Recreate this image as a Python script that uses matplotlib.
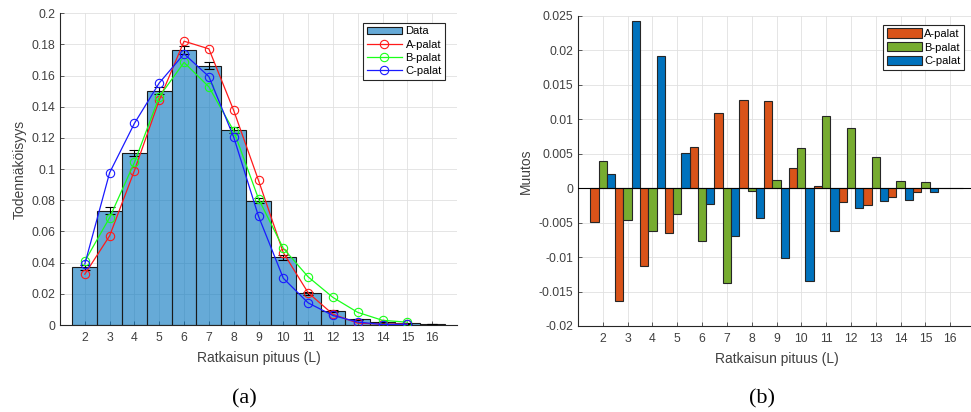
import numpy as np
import matplotlib.pyplot as plt

######################################################################
# data

lengths = np.arange(2, 17)

data_p = [0.0370, 0.0734, 0.1104, 0.1502, 0.1762, 0.1664, 0.1249, 0.0798,
          0.0434, 0.0204, 0.0089, 0.0036, 0.0019, 0.0010, 0.0006]
data_err = [0.0018, 0.0020, 0.0020, 0.0022, 0.0026, 0.0024, 0.0020, 0.0018,
            0.0014, 0.0010, 0.0007, 0.0005, 0.0003, 0.0002, 0.0001]

model_len = np.arange(2, 16)
a_palat = [0.0326, 0.0572, 0.0991, 0.1443, 0.1821, 0.1772, 0.1377, 0.0928,
           0.0464, 0.0207, 0.0069, 0.0012, 0.0006, 0.0006]
b_palat = [0.0409, 0.0689, 0.1043, 0.1465, 0.1685, 0.1528, 0.1246, 0.0810,
           0.0492, 0.0309, 0.0177, 0.0081, 0.0030, 0.0018]
c_palat = [0.0391, 0.0977, 0.1294, 0.1553, 0.1740, 0.1594, 0.1206, 0.0698,
           0.0300, 0.0142, 0.0061, 0.0019, 0.0003, 0.0005]

diff_a = [-0.00485, -0.0164, -0.0113, -0.0065, 0.0060, 0.01095, 0.0128, 0.0127,
          0.00286, 0.00034, -0.0020, -0.0025, -0.0013, -0.0005, 0.0]
diff_b = [0.0039, -0.0046, -0.0062, -0.0038, -0.0077, -0.0137, -0.0004, 0.00116,
          0.0058, 0.01047, 0.00877, 0.00455, 0.00107, 0.00087, 0.0]
diff_c = [0.0021, 0.0243, 0.0191, 0.0051, -0.0023, -0.0070, -0.0044, -0.0101,
          -0.0135, -0.0062, -0.0029, -0.0018, -0.0017, -0.0006, 0.0]

left_yticks = np.arange(0, 0.201, 0.02)
left_ylabels = ['0', '0.02', '0.04', '0.06', '0.08', '0.1', '0.12', '0.14',
                '0.16', '0.18', '0.2']
right_yticks = np.arange(-0.02, 0.0251, 0.005)
right_ylabels = ['-0.02', '-0.015', '-0.01', '-0.005', '0', '0.005', '0.01',
                 '0.015', '0.02', '0.025']

######################################################################

plt.rcParams['font.family'] = ['Liberation Sans', 'DejaVu Sans']
tick_col = '#404040'

fig = plt.figure(figsize=(9.71, 4.12), dpi=100)


def style_axes(ax):
    ax.spines['top'].set_visible(False)
    ax.spines['right'].set_visible(False)
    for s in ('left', 'bottom'):
        ax.spines[s].set_color('#262626')
        ax.spines[s].set_linewidth(0.8)
    ax.tick_params(direction='in', length=3, width=0.6, colors=tick_col,
                   labelsize=8.8)
    ax.tick_params(axis='x', pad=5)
    ax.grid(True, color='#e0e0e0', linewidth=0.6)
    ax.set_axisbelow(True)


# (a) distribution
ax1 = fig.add_axes([60/971, 1 - 325/412, 397/971, 311.7/412])
ax1.bar(lengths, data_p, width=1.0, facecolor=(0, 0.447, 0.741, 0.6),
        edgecolor='#1a1a1a', linewidth=0.8, label='Data', zorder=2)
ax1.errorbar(lengths, data_p, yerr=data_err, fmt='none', ecolor='black',
             elinewidth=0.8, capsize=3.5, capthick=0.8, zorder=3)
ax1.plot(model_len, a_palat, '-o', color='#ff1a1a', mfc='none', ms=6,
         lw=0.9, mew=0.8, label='A-palat', zorder=4)
ax1.plot(model_len, b_palat, '-o', color='#1aff1a', mfc='none', ms=6,
         lw=0.9, mew=0.8, label='B-palat', zorder=4)
ax1.plot(model_len, c_palat, '-o', color='#1a1aff', mfc='none', ms=6,
         lw=0.9, mew=0.8, label='C-palat', zorder=4)
ax1.set_xlim(1, 17)
ax1.set_ylim(0, 0.2)
ax1.set_xticks(lengths)
ax1.set_yticks(left_yticks)
ax1.set_yticklabels(left_ylabels)
style_axes(ax1)
ax1.set_ylabel('Todennäköisyys', fontsize=10, color=tick_col)
ax1.yaxis.set_label_coords(-0.085, 0.5)
ax1.set_xlabel('Ratkaisun pituus (L)', fontsize=10, color=tick_col)
ax1.xaxis.set_label_coords(0.5, -0.083)
handles, labels = ax1.get_legend_handles_labels()
order = [labels.index('Data'), labels.index('A-palat'),
         labels.index('B-palat'), labels.index('C-palat')]
leg1 = ax1.legend([handles[i] for i in order], [labels[i] for i in order],
                  loc='upper right', bbox_to_anchor=(0.97, 0.969), fontsize=8,
                  fancybox=False, framealpha=1, edgecolor='#262626',
                  handlelength=3.2, handletextpad=0.3, borderpad=0.3,
                  labelspacing=0.3, borderaxespad=0)
leg1.get_frame().set_linewidth(0.8)

# (b) differences
ax2 = fig.add_axes([578/971, 1 - 326/412, 397/971, 310.3/412])
w = 1/3
ax2.bar(lengths - w, diff_a, width=w, color='#d95319', edgecolor='#262626',
        linewidth=0.8, label='A-palat', zorder=2)
ax2.bar(lengths, diff_b, width=w, color='#77ac30', edgecolor='#262626',
        linewidth=0.8, label='B-palat', zorder=2)
ax2.bar(lengths + w, diff_c, width=w, color='#0072bd', edgecolor='#262626',
        linewidth=0.8, label='C-palat', zorder=2)
ax2.axhline(0, color='black', linewidth=0.8, zorder=3)
ax2.set_xlim(1, 17)
ax2.set_ylim(-0.02, 0.025)
ax2.set_xticks(lengths)
ax2.set_yticks(right_yticks)
ax2.set_yticklabels(right_ylabels)
style_axes(ax2)
ax2.set_ylabel('Muutos', fontsize=10, color=tick_col)
ax2.yaxis.set_label_coords(-0.113, 0.5)
ax2.set_xlabel('Ratkaisun pituus (L)', fontsize=10, color=tick_col)
ax2.xaxis.set_label_coords(0.5, -0.083)
leg2 = ax2.legend(loc='upper right', bbox_to_anchor=(0.972, 0.97),
                  fontsize=8, fancybox=False, framealpha=1,
                  edgecolor='#262626', handlelength=3.2, handleheight=0.9,
                  handletextpad=0.2, borderpad=0.3, labelspacing=0.3,
                  borderaxespad=0)
leg2.get_frame().set_linewidth(0.8)

fig.text(244/971, 1 - 399/412, '(a)', ha='center', va='center', fontsize=16,
         family='Liberation Serif')
fig.text(762/971, 1 - 399/412, '(b)', ha='center', va='center', fontsize=16,
         family='Liberation Serif')

fig.savefig('out.png', dpi=100)
